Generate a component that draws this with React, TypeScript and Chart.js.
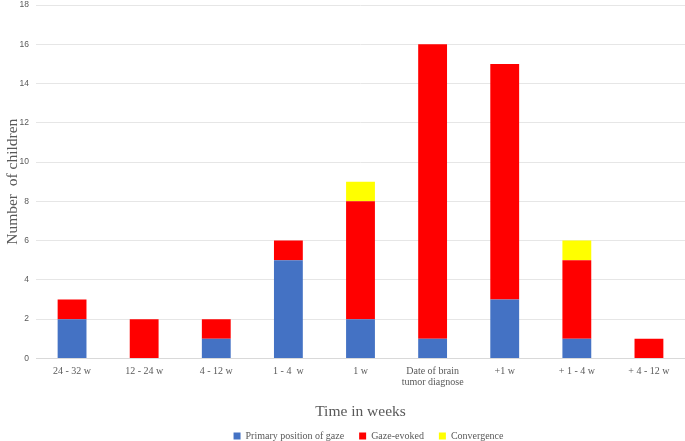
import React, { useEffect, useRef } from "react";
import { Chart, registerables } from "chart.js";

Chart.register(...registerables);

const categories: (string | string[])[] = [
  "24 - 32 w",
  "12 - 24 w",
  "4 - 12 w",
  "1 - 4  w",
  "1 w",
  ["Date of brain", "tumor diagnose"],
  "+1 w",
  "+ 1 - 4 w",
  "+ 4 - 12 w",
];
const primaryPosition = [2, 0, 1, 5, 2, 1, 3, 1, 0];
const gazeEvoked = [1, 2, 1, 1, 6, 15, 12, 4, 1];
const convergence = [0, 0, 0, 0, 1, 0, 0, 1, 0];

const serif = "'Liberation Serif', 'Times New Roman', serif";
const sans = "'Liberation Sans', Arial, sans-serif";

const legendShift = {
  id: "legendShift",
  afterLayout(chart: any) {
    const l = chart.legend;
    if (l) {
      l.left += 8;
      l.right += 8;
    }
  },
};

export default function App() {
  const ref = useRef<HTMLCanvasElement | null>(null);
  useEffect(() => {
    if (!ref.current) return;
    const chart = new Chart(ref.current, {
      type: "bar",
      data: {
        labels: categories,
        datasets: [
          { label: "Primary position of gaze", data: primaryPosition, backgroundColor: "#4472C4" },
          { label: "Gaze-evoked", data: gazeEvoked, backgroundColor: "#FF0000" },
          { label: "Convergence", data: convergence, backgroundColor: "#FFFF00" },
        ],
      },
      plugins: [legendShift],
      options: {
        animation: false,
        responsive: false,
        maintainAspectRatio: false,
        layout: { padding: { left: 0, right: -2, top: 5, bottom: -10 } },
        datasets: { bar: { barPercentage: 0.4, categoryPercentage: 1 } },
        plugins: {
          legend: {
            position: "bottom",
            fullSize: false,
            labels: {
              boxWidth: 7,
              boxHeight: 7,
              padding: 15,
              color: "#595959",
              font: { family: serif, size: 10 },
            },
          },
          tooltip: { enabled: false },
        },
        scales: {
          x: {
            stacked: true,
            grid: { display: false, drawTicks: false },
            border: { display: true, color: "#d9d9d9" },
            ticks: {
              color: "#595959",
              font: { family: serif, size: 10, lineHeight: 1.15 },
              padding: 7,
              maxRotation: 0,
              autoSkip: false,
            },
            title: {
              display: true,
              text: "Time in weeks",
              color: "#595959",
              font: { family: serif, size: 15.5 },
              padding: { top: 7, bottom: -5 },
            },
          },
          y: {
            stacked: true,
            min: 0,
            max: 18,
            afterFit: (scale: any) => {
              scale.width = 36;
              scale.paddingTop = 0;
              scale.paddingBottom = 0;
            },
            ticks: { stepSize: 2, color: "#595959", font: { family: sans, size: 8.5 }, padding: 7 },
            grid: { color: "#e6e6e6", drawTicks: false },
            border: { display: false },
            title: {
              display: true,
              text: "Number  of children",
              color: "#595959",
              font: { family: serif, size: 15.5 },
              padding: { top: 4, bottom: 0 },
            },
          },
        },
      },
    });
    return () => chart.destroy();
  }, []);
  return (
    <div style={{ position: "fixed", left: 0, top: 0, width: 685, height: 441, background: "#fff" }}>
      <canvas ref={ref} width={685} height={441} style={{ width: 685, height: 441 }} />
    </div>
  );
}
